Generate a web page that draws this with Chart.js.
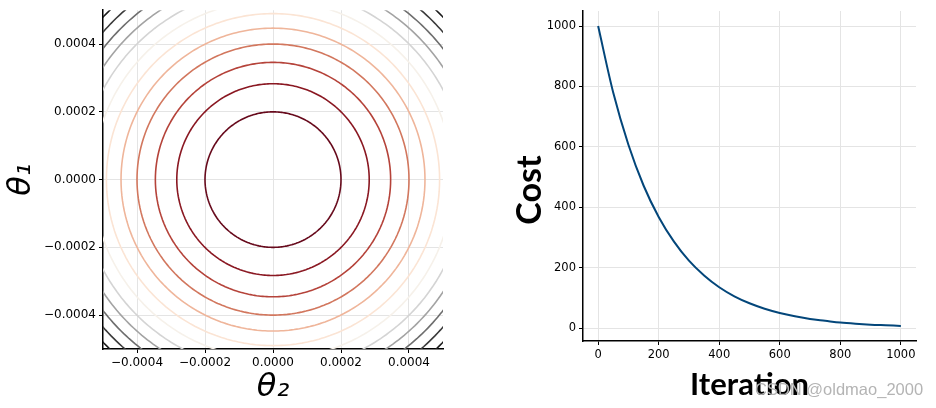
<!DOCTYPE html>
<html>
<head>
<meta charset="utf-8">
<script src="https://cdn.jsdelivr.net/npm/chart.js@4.4.0/dist/chart.umd.min.js"></script>
<style>
  body { margin: 0; background: #fff; width: 936px; height: 408px; position: relative; overflow: hidden; }
  canvas { position: absolute; top: 0; }
  #contour { left: 0; }
  #cost { left: 470px; }
  #mark { position: absolute; left: 755px; top: 380px; font: 16.5px 'Liberation Sans', sans-serif; color: #b4b4b4; white-space: nowrap; }
</style>
</head>
<body>
<canvas id="contour" width="460" height="408"></canvas>
<canvas id="cost" width="466" height="408"></canvas>
<div id="mark">CSDN @oldmao_2000</div>
<script>
// left: contour levels of the cost surface
var thetaTicks = [-0.0004, -0.0002, 0, 0.0002, 0.0004];
var contourRadii = [0.0002, 0.000283, 0.000346, 0.0004, 0.000447, 0.00049, 0.000529, 0.000566, 0.0006, 0.000632, 0.000663, 0.000693];
var contourColors = ['#670a1c', '#8a1822', '#b5433a', '#d2775e', '#efb59a', '#fbe4d4', '#f6f1ea',
                     '#d4d4d4', '#a3a3a3', '#6e6e6e', '#3a3a3a', '#1a1a1a'];

// right: cost per iteration
var iterations = [0, 50, 100, 150, 200, 250, 300, 350, 400, 450, 500, 550, 600, 650, 700, 750, 800, 850, 900, 950, 1000];
var costValues = [1000, 779, 607, 472, 368, 287, 223, 174, 135, 105, 82, 64, 50, 39, 30, 24, 18, 14, 11, 9, 7];
var iterTicks = [0, 200, 400, 600, 800, 1000];
var costTicks = [0, 200, 400, 600, 800, 1000];

function thetaLabel(v) {
    if (Math.abs(v) < 1e-12) return '0.0000';
    return (v < 0 ? '\u2212' : '') + Math.abs(v).toFixed(4);
}

function circle(r) {
    var pts = [];
    for (var i = 0; i <= 180; i++) {
        var a = i / 180 * 2 * Math.PI;
        pts.push({x: r * Math.cos(a), y: r * Math.sin(a)});
    }
    return pts;
}

var gridColor = '#e4e4e4';

function axis(min, max, tickVals, fmt, fontSize, fixed, isX) {
    return {
        type: 'linear',
        min: min,
        max: max,
        afterBuildTicks: function (s) { s.ticks = tickVals.map(function (v) { return {value: v}; }); },
        afterFit: function (s) { if (isX) s.height = fixed; else s.width = fixed; },
        grid: { color: gridColor, lineWidth: 1, tickLength: 4, tickColor: '#000' },
        border: { display: true, color: '#000', width: 1.5 },
        ticks: {
            color: '#000',
            padding: 3,
            maxRotation: 0,
            autoSkip: false,
            font: { family: 'DejaVu Sans', size: fontSize },
            callback: fmt
        }
    };
}

var xa = axis(-0.0005, 0.0005, thetaTicks, thetaLabel, 12, 59, true);
xa.title = { display: true, text: '\u03b8\u2082', color: '#000', padding: {top: 0, bottom: 1},
             font: { family: 'DejaVu Sans', size: 32, style: 'italic' } };
var ya = axis(-0.0005, 0.0005, thetaTicks, thetaLabel, 12, 103, false);
ya.title = { display: true, text: '\u03b8\u2081', color: '#000', padding: {top: 2, bottom: 0},
             font: { family: 'DejaVu Sans', size: 32, style: 'italic' } };

new Chart(document.getElementById('contour'), {
    type: 'scatter',
    data: {
        datasets: contourRadii.map(function (r, i) {
            return {
                data: circle(r),
                showLine: true,
                borderColor: contourColors[i],
                borderWidth: 1.6,
                pointRadius: 0,
                tension: 0.01
            };
        })
    },
    options: {
        responsive: false,
        animation: false,
        layout: { padding: { left: 0, right: 17, top: 10, bottom: 0 } },
        plugins: { legend: { display: false }, tooltip: { enabled: false } },
        scales: { x: xa, y: ya }
    }
});

// y title of the cost chart sits a little below the axis centre
var costTitle = {
    id: 'costTitle',
    afterDraw: function (chart) {
        var ctx = chart.ctx;
        ctx.save();
        ctx.translate(60, 190);
        ctx.rotate(-Math.PI / 2);
        ctx.font = 'bold 34px Lato';
        ctx.fillStyle = '#000';
        ctx.textAlign = 'center';
        ctx.textBaseline = 'middle';
        ctx.fillText('Cost', 0, 0);
        ctx.restore();
    }
};

var xb = axis(-50, 1050, iterTicks, function (v) { return String(v); }, 11.5, 67, true);
xb.title = { display: true, text: 'Iteration', color: '#000', padding: {top: 0, bottom: 4},
             font: { family: 'Lato', size: 31, weight: 'bold' } };
var yb = axis(-43, 1050, costTicks, function (v) { return String(v); }, 11.5, 113, false);

new Chart(document.getElementById('cost'), {
    type: 'scatter',
    data: {
        datasets: [{
            data: iterations.map(function (it, i) { return {x: it, y: costValues[i]}; }),
            showLine: true,
            borderColor: '#03467a',
            borderWidth: 2,
            pointRadius: 0,
            cubicInterpolationMode: 'monotone'
        }]
    },
    options: {
        responsive: false,
        animation: false,
        layout: { padding: { left: 0, right: 20, top: 11, bottom: 0 } },
        plugins: { legend: { display: false }, tooltip: { enabled: false } },
        scales: { x: xb, y: yb }
    },
    plugins: [costTitle]
});
</script>
</body>
</html>
